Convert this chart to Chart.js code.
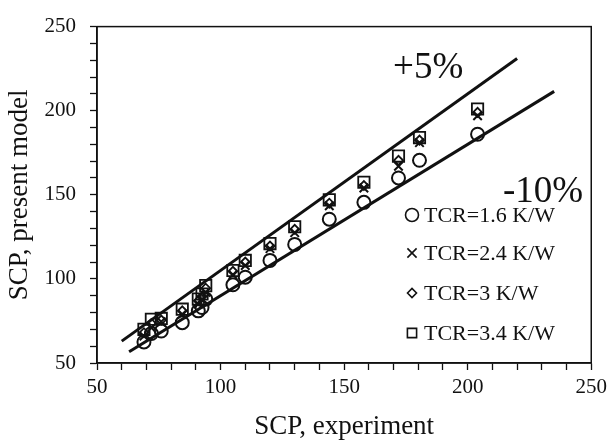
<!DOCTYPE html>
<html>
<head>
<meta charset="utf-8">
<script src="https://cdn.jsdelivr.net/npm/chart.js@4/dist/chart.umd.min.js"></script>
<style>
  html, body { margin: 0; padding: 0; background: #fff; }
  #wrap { width: 612px; height: 447px; }
</style>
</head>
<body>
<div id="wrap"><canvas id="grafico"></canvas></div>
<script>
// datos
const xExp   = [69, 72, 76, 84.5, 91, 92.5, 94, 105, 110, 120, 130, 144, 158, 172, 180.5, 204];
const tcr16  = [62.5, 67.5, 69, 74, 81, 83, 88, 96.5, 101, 111, 120.5, 135.5, 145.5, 160, 170.5, 186];
const tcr24  = [66, 71, 74.5, 79, 85, 88, 92, 102.5, 108, 118, 127.5, 143.5, 154, 167, 181, 197];
const tcr3   = [68, 73.5, 75.5, 81, 87, 89.5, 94.5, 104.5, 110, 119.5, 129.5, 145, 155.5, 170.5, 182.5, 199];
const tcr34  = [70, 76, 76.5, 82, 88, 91, 96, 105, 111, 121, 131, 147, 157.5, 173, 184, 201];
const etiquetas = ["TCR=1.6 K/W", "TCR=2.4 K/W", "TCR=3 K/W", "TCR=3.4 K/W"];

// lineas de error +5% y -10%
const lineaMasX = [60, 220];
const lineaMasY = [63, 231];
const lineaMenosX = [63, 235];
const lineaMenosY = [56.7, 211.5];

const ejeX = [50, 250];
const ejeY = [50, 250];

const FUENTE = "'Liberation Serif', 'Times New Roman', serif";
const NEGRO = "#111";

const pares = (xs, ys) => xs.map((x, i) => ({ x, y: ys[i] }));

const estilos = [
  { pointStyle: "circle", radius: 6.5, borderWidth: 2 },
  { pointStyle: "crossRot", radius: 6, borderWidth: 2 },
  { pointStyle: "rectRot", radius: 4.5, borderWidth: 1.8 },
  { pointStyle: "rect", radius: 8, borderWidth: 1.8 },
];
const series = [tcr16, tcr24, tcr3, tcr34];

const datasets = [
  { type: "line", data: pares(lineaMasX, lineaMasY), borderColor: NEGRO, borderWidth: 3, pointRadius: 0, fill: false },
  { type: "line", data: pares(lineaMenosX, lineaMenosY), borderColor: NEGRO, borderWidth: 3, pointRadius: 0, fill: false },
];
series.forEach((ys, i) => {
  datasets.push({
    type: "scatter",
    label: etiquetas[i],
    data: pares(xExp, ys),
    pointStyle: estilos[i].pointStyle,
    pointRadius: estilos[i].radius,
    pointHoverRadius: estilos[i].radius,
    pointBorderWidth: estilos[i].borderWidth,
    pointBorderColor: NEGRO,
    pointBackgroundColor: "rgba(0,0,0,0)",
  });
});

// marco, textos y leyenda
const extras = {
  id: "extras",
  afterDraw(chart) {
    const { ctx, chartArea: a, scales } = chart;
    ctx.save();
    ctx.strokeStyle = NEGRO;
    ctx.lineWidth = 1.5;
    ctx.strokeRect(a.left, a.top, a.right - a.left, a.bottom - a.top);

    ctx.fillStyle = NEGRO;
    ctx.font = "37px " + FUENTE;
    ctx.textAlign = "center";
    ctx.textBaseline = "middle";
    ctx.fillText("+5%", scales.x.getPixelForValue(184), scales.y.getPixelForValue(225));
    ctx.fillText("-10%", scales.x.getPixelForValue(230.5), scales.y.getPixelForValue(151.5));

    // leyenda
    ctx.font = "22px " + FUENTE;
    ctx.textAlign = "left";
    const x0 = a.left + 315;
    const filas = [215, 253, 293, 333];
    etiquetas.forEach((t, i) => {
      const y = filas[i];
      ctx.lineWidth = 1.6;
      ctx.strokeStyle = NEGRO;
      ctx.fillStyle = "rgba(0,0,0,0)";
      Chart.helpers.drawPoint(ctx, {
        pointStyle: estilos[i].pointStyle,
        radius: estilos[i].pointStyle === "rectRot" ? 4.5 : 6.5,
        rotation: 0,
        borderWidth: 1.6,
      }, x0, y);
      ctx.fillStyle = NEGRO;
      ctx.fillText(t, x0 + 12, y + 1);
    });
    ctx.restore();
  }
};

new Chart(document.getElementById("grafico"), {
  type: "scatter",
  data: { datasets },
  options: {
    responsive: true,
    maintainAspectRatio: false,
    animation: false,
    events: [],
    layout: { padding: { top: 11, right: 15, left: 0, bottom: 0 } },
    plugins: { legend: { display: false }, tooltip: { enabled: false } },
    scales: {
      x: {
        type: "linear",
        min: ejeX[0], max: ejeX[1],
        afterFit: (s) => { s.height = 84; },
        border: { display: true, color: NEGRO, width: 1.5 },
        grid: { display: true, drawOnChartArea: false, drawTicks: true, tickLength: 7, color: NEGRO, tickColor: NEGRO, tickWidth: 1.3 },
        ticks: {
          stepSize: 10, autoSkip: false, maxRotation: 0, padding: 5,
          color: NEGRO, font: { family: FUENTE, size: 21 },
          callback: (v) => (v % 50 === 0 ? v : ""),
        },
        title: { display: true, text: "SCP, experiment", color: NEGRO, font: { family: FUENTE, size: 27 }, padding: { top: 2 } },
      },
      y: {
        type: "linear",
        min: ejeY[0], max: ejeY[1],
        afterFit: (s) => { s.width = 97; },
        border: { display: true, color: NEGRO, width: 1.5 },
        grid: { display: true, drawOnChartArea: false, drawTicks: true, tickLength: 7, color: NEGRO, tickColor: NEGRO, tickWidth: 1.3 },
        ticks: {
          stepSize: 10, autoSkip: false, padding: 14,
          color: NEGRO, font: { family: FUENTE, size: 21 },
          callback: (v) => (v % 50 === 0 ? v : ""),
        },
        title: { display: true, text: "SCP, present model", color: NEGRO, font: { family: FUENTE, size: 27 }, padding: { bottom: 0 } },
      },
    },
  },
  plugins: [extras],
});
</script>
</body>
</html>
